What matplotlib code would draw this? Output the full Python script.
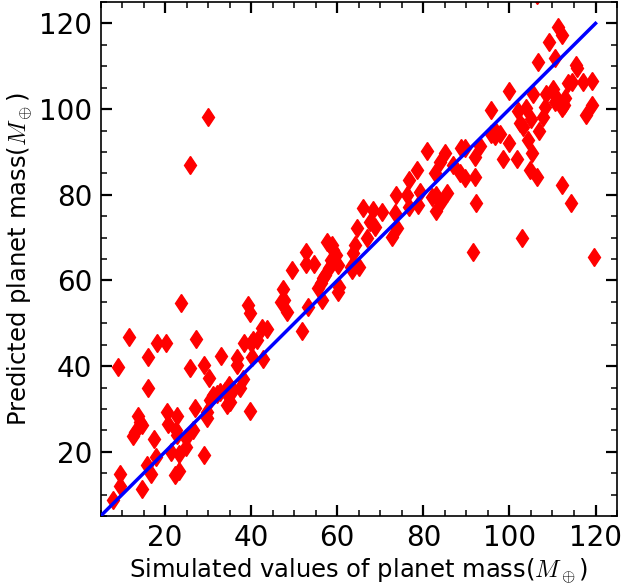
import matplotlib
matplotlib.use("Agg")
import matplotlib.pyplot as plt
from matplotlib.ticker import MultipleLocator

plt.rcParams['mathtext.fontset'] = 'cm'

# Simulated (x) vs predicted (y) planet masses
sim_mass = [
    7.8, 9.5, 9.4, 9.1, 11.6, 16.1, 16.0, 18.2, 20.1, 23.7, 27.1, 25.8, 29.1, 30.3, 33.0,
    25.8, 30.0, 13.6, 14.2, 14.6, 13.0, 12.5, 20.4, 20.7, 22.7, 26.9, 22.5, 22.8, 17.5,
    24.8, 24.8, 26.5, 29.7, 29.7, 30.4, 32.0, 34.3, 21.3, 23.2, 29.1, 17.8, 15.7, 16.6,
    23.2, 22.3, 14.7, 31.2, 32.8, 33.8, 34.9, 35.8, 35.1, 37.4, 38.1, 36.6, 36.8, 38.4,
    40.2, 39.9, 40.5, 41.4, 39.3, 39.7, 39.7, 42.6, 43.7, 42.8, 47.0, 47.7, 47.4, 48.4,
    49.4, 51.7, 53.2, 52.7, 52.7, 54.6, 55.6, 56.5, 56.3, 56.7, 57.1, 57.5, 58.7, 59.1,
    59.8, 58.5, 58.1, 60.2, 60.4, 60.2, 63.4, 64.1, 63.7, 63.3, 65.1, 64.6, 66.0, 67.0,
    68.3, 67.6, 68.7, 70.3, 72.6, 73.6, 73.8, 73.4, 76.1, 76.7, 78.5, 79.2, 78.8, 76.7,
    80.9, 81.9, 82.6, 82.9, 82.9, 84.2, 83.8, 85.0, 85.5, 86.9, 88.8, 89.6, 88.5, 89.6,
    91.9, 91.9, 93.2, 92.3, 91.5, 106.6, 99.8, 105.5, 108.4, 110.1, 110.9, 110.5, 112.8,
    113.6, 112.1, 95.8, 102.1, 103.8, 108.2, 107.8, 104.9, 102.5, 103.1, 106.8, 104.2,
    95.8, 96.9, 96.6, 99.9, 98.4, 101.8, 105.2, 104.7, 106.3, 112.2, 97.7, 111.3, 112.1,
    109.2, 110.5, 115.5, 115.7, 114.6, 117.2, 119.2, 119.2, 117.9, 119.6, 103.0, 114.4,
    112.6, 106.5,
]
pred_mass = [
    8.7, 14.7, 12.0, 39.7, 46.7, 42.2, 35.0, 45.3, 45.5, 54.7, 46.4, 39.5, 40.2, 37.3, 42.3,
    86.9, 98.2, 28.3, 27.0, 26.2, 24.7, 23.7, 29.3, 26.6, 28.3, 30.3, 25.1, 23.9, 22.9,
    23.1, 21.0, 25.1, 29.3, 27.8, 32.1, 33.6, 30.9, 20.0, 19.5, 19.2, 18.8, 16.9, 14.8,
    15.5, 14.6, 11.2, 33.2, 34.0, 34.3, 35.7, 34.4, 31.7, 34.8, 37.1, 40.2, 42.0, 45.3,
    42.2, 45.3, 46.1, 46.2, 54.3, 52.3, 29.6, 48.8, 48.6, 41.6, 55.0, 55.4, 57.9, 52.7,
    62.4, 48.2, 53.7, 63.9, 66.7, 63.8, 58.2, 55.4, 59.3, 60.5, 61.3, 69.0, 68.3, 67.1,
    65.9, 64.8, 62.8, 63.6, 58.5, 57.4, 62.4, 68.3, 66.3, 63.2, 63.2, 72.2, 76.8, 69.8,
    76.4, 73.7, 72.5, 76.0, 70.2, 79.9, 72.2, 75.7, 79.9, 83.4, 85.8, 80.7, 77.6, 77.2,
    90.1, 79.5, 85.0, 79.9, 76.3, 78.4, 87.7, 89.7, 80.5, 86.9, 90.8, 90.8, 85.0, 83.8,
    84.2, 88.9, 91.4, 78.0, 66.7, 111.1, 104.2, 103.6, 103.6, 104.8, 102.9, 101.7, 102.5,
    106.0, 100.2, 99.8, 99.6, 100.2, 100.6, 98.2, 97.6, 96.7, 95.9, 95.0, 92.9,
    94.3, 94.7, 93.7, 92.0, 88.3, 88.3, 89.8, 85.8, 84.2, 82.3, 94.3, 119.2, 117.3,
    115.6, 111.9, 110.3, 109.5, 106.3, 106.3, 106.6, 101.0, 98.6, 65.5, 70.0, 78.0,
    101.0, 126.6,
]
line_x = [5, 120]
line_y = [5, 120]
xticks = [20, 40, 60, 80, 100, 120]
yticks = [20, 40, 60, 80, 100, 120]

fig = plt.figure(figsize=(6.21, 5.88), dpi=100)
ax = fig.add_axes([0.162, 0.1224, 0.8316, 0.8742])

ax.plot(sim_mass, pred_mass, linestyle='none', marker='d', markersize=9.5,
        color='red', markeredgecolor='red', zorder=2)
ax.plot(line_x, line_y, color='blue', linewidth=2.5, zorder=3)

ax.set_xlim(5, 125)
ax.set_ylim(5, 125)
ax.set_xticks(xticks)
ax.set_yticks(yticks)
ax.xaxis.set_minor_locator(MultipleLocator(5))
ax.yaxis.set_minor_locator(MultipleLocator(5))
ax.tick_params(which='both', direction='in', top=True, right=True)
ax.tick_params(which='major', length=8, width=1.6, labelsize=20, pad=6)
ax.tick_params(which='minor', length=4, width=1.1)
for s in ax.spines.values():
    s.set_linewidth(1.2)

ax.set_xlabel(r'Simulated values of planet mass($M_\oplus$)', fontsize=17.5, labelpad=3)
ax.set_ylabel(r'Predicted planet mass($M_\oplus$)', fontsize=17.5, labelpad=3)

fig.savefig('out.png', dpi=100)
